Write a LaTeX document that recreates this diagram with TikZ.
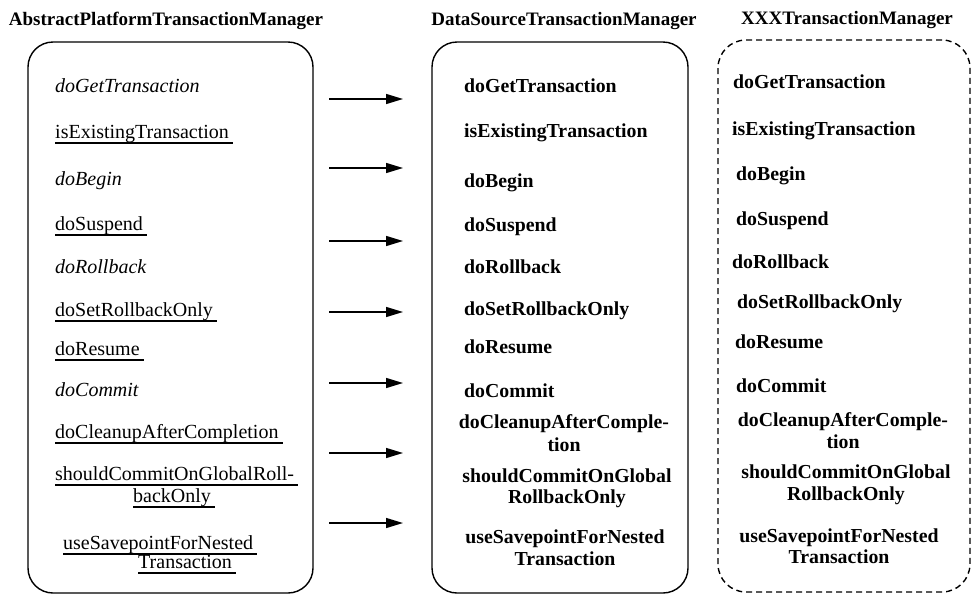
\documentclass[tikz,border=0pt]{standalone}
\usepackage{fontspec}
\setmainfont{Liberation Serif}
\usetikzlibrary{arrows.meta}
\begin{document}
\begin{tikzpicture}[x=1pt,y=-1pt,
  txt/.style={inner sep=0pt, anchor=base west, font=\fontsize{20}{22}\selectfont},
  itl/.style={txt, font=\fontsize{20}{22}\selectfont\itshape},
  ul/.style={txt, append after command={([shift={(0pt,-5pt)}]\tikzlastnode.base west) edge[line width=1.2pt] ([shift={(4pt,-5pt)}]\tikzlastnode.base east)}},
  bld/.style={txt, font=\fontsize{19.8}{22}\selectfont\bfseries},
  bldc/.style={bld, anchor=base},
  ttl/.style={inner sep=0pt, anchor=base, font=\fontsize{19}{20}\selectfont\bfseries},
  box/.style={draw, line width=1.4pt, rounded corners=25pt, inner sep=0pt},
  arr/.style={line width=1.4pt, -{Triangle[length=17pt,width=10pt]}}
]
\useasboundingbox (0,0) rectangle (972,595);
% titles
\node[ttl] (t1) at (166,25) {AbstractPlatformTransactionManager};
\node[ttl] (t2) at (564,25) {DataSourceTransactionManager};
\node[ttl] (t3) at (847,24) {XXXTransactionManager};
% boxes
\node[box, minimum width=285pt, minimum height=551pt] (b1) at (170.5,317.5) {};
\node[box, minimum width=256pt, minimum height=551pt] (b2) at (560,317.5) {};
\node[box, dash pattern=on 6pt off 4pt, rounded corners=28pt, minimum width=252pt, minimum height=552pt] (b3) at (844,316) {};
% box 1 items
\node[itl] (a1) at (55,92) {doGetTransaction};
\node[ul] (a2) at (55,138) {isExistingTransaction};
\node[itl] (a3) at (55,185) {doBegin};
\node[ul] (a4) at (55,230) {doSuspend};
\node[itl] (a5) at (55,273) {doRollback};
\node[ul] (a6) at (55,316) {doSetRollbackOnly};
\node[ul] (a7) at (55,355) {doResume};
\node[itl] (a8) at (55,396) {doCommit};
\node[ul] (a9) at (55,438) {doCleanupAfterCompletion};
\node[ul] (a10) at (55,480) {shouldCommitOnGlobalRoll-};
\node[ul] (a10b) at (133,502) {backOnly};
\node[ul] (a11) at (63,549) {useSavepointForNested};
\node[ul] (a11b) at (138,568) {Transaction};
% box 2 items
\node[bld] (c1) at (464,92) {doGetTransaction};
\node[bld] (c2) at (464,137) {isExistingTransaction};
\node[bld] (c3) at (464,187) {doBegin};
\node[bld] (c4) at (464,231) {doSuspend};
\node[bld] (c5) at (464,273) {doRollback};
\node[bld] (c6) at (464,315) {doSetRollbackOnly};
\node[bld] (c7) at (464,353) {doResume};
\node[bld] (c8) at (464,397) {doCommit};
\node[bldc] (c9) at (564,428) {doCleanupAfterComple-};
\node[bldc] (c9b) at (564,451) {tion};
\node[bldc] (c10) at (567,482) {shouldCommitOnGlobal};
\node[bldc] (c10b) at (567,503) {RollbackOnly};
\node[bldc] (c11) at (565,543) {useSavepointForNested};
\node[bldc] (c11b) at (565,565) {Transaction};
% box 3 items
\node[bld] (d1) at (733,88) {doGetTransaction};
\node[bld] (d2) at (732,135) {isExistingTransaction};
\node[bld] (d3) at (736,180) {doBegin};
\node[bld] (d4) at (736,225) {doSuspend};
\node[bld] (d5) at (732,268) {doRollback};
\node[bld] (d6) at (737,308) {doSetRollbackOnly};
\node[bld] (d7) at (735,348) {doResume};
\node[bld] (d8) at (736,392) {doCommit};
\node[bldc] (d9) at (843,426) {doCleanupAfterComple-};
\node[bldc] (d9b) at (843,448) {tion};
\node[bldc] (d10) at (846,478) {shouldCommitOnGlobal};
\node[bldc] (d10b) at (846,500) {RollbackOnly};
\node[bldc] (d11) at (839,542) {useSavepointForNested};
\node[bldc] (d11b) at (839,563) {Transaction};
% arrows
\foreach \i/\y in {1/99,2/168,3/241,4/312,5/383,6/453,7/523}{
  \coordinate (s\i) at (329,\y);
  \coordinate (e\i) at (403,\y);
  \draw[arr] (s\i) -- (e\i);
}
\end{tikzpicture}
\end{document}
